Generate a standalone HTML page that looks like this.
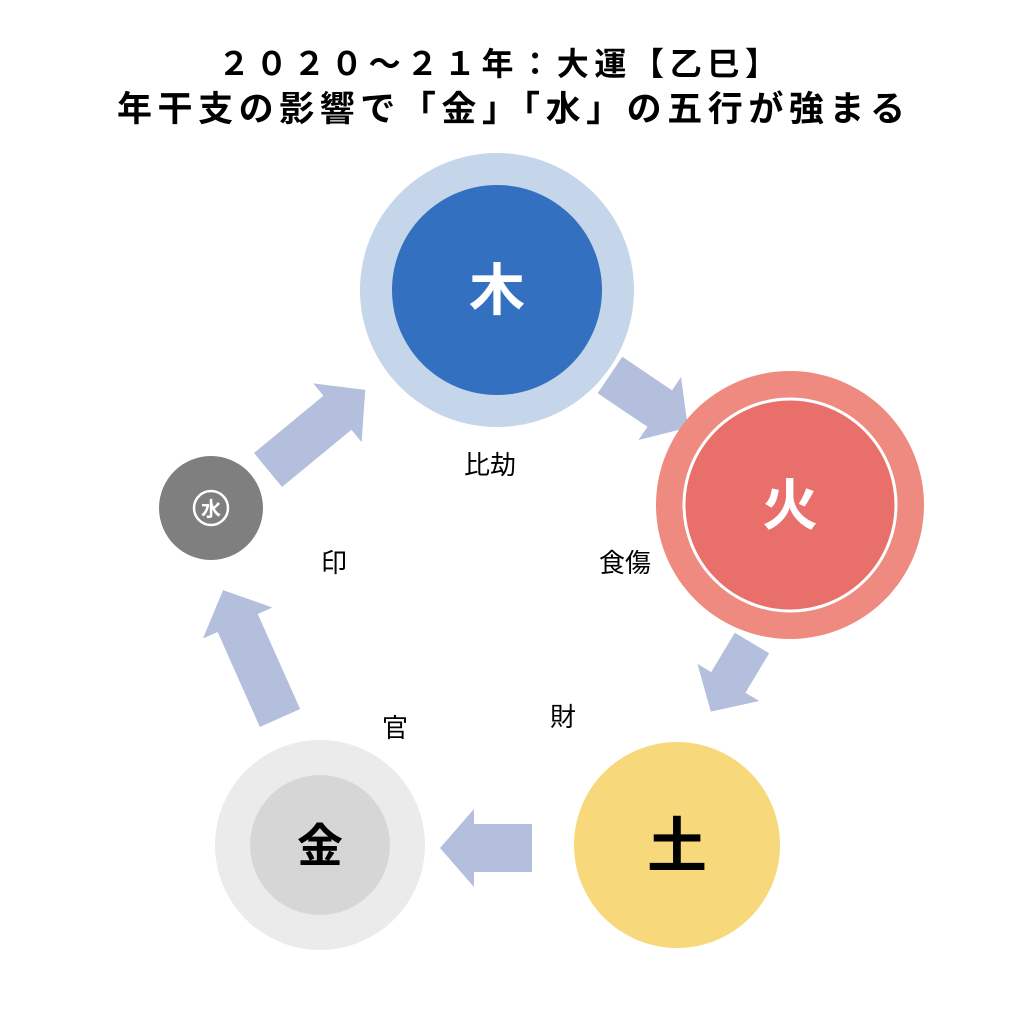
<!DOCTYPE html>
<html><head><meta charset="utf-8"><style>
html,body{margin:0;padding:0;background:#fff;}
body{width:1024px;height:1021px;overflow:hidden;}
svg{display:block;}
text{font-family:"Liberation Sans","Noto Sans CJK JP",sans-serif;}
</style></head><body>
<svg width="1024" height="1021" viewBox="0 0 1024 1021" xmlns="http://www.w3.org/2000/svg">
<text x="218" y="75" font-size="32" font-weight="bold" fill="#000" textLength="559" lengthAdjust="spacing">２０２０～２１年：大運【乙巳】</text>
<text x="117" y="121" font-size="35" font-weight="bold" fill="#000" textLength="788" lengthAdjust="spacing">年干支の影響で「金」「水」の五行が強まる</text>

<g fill="#b4bedd">
<polygon points="0,-22 60,-22 60,-38 94,0 60,38 60,22 0,22" transform="translate(610,375) rotate(34)"/>
<polygon points="0,-20 46,-20 46,-36 80,0 46,36 46,20 0,20" transform="translate(752,643) rotate(121)"/>
<polygon points="0,-24 58,-24 58,-39 92,0 58,39 58,24 0,24" transform="translate(532,848) rotate(180)"/>
<polygon points="0,-22 104,-22 104,-38 140,0 104,38 104,22 0,22" transform="translate(280,718) rotate(-114)"/>
<polygon points="0,-22 90,-22 90,-38 126,0 90,38 90,22 0,22" transform="translate(268,470) rotate(-39.5)"/>
</g>

<circle cx="497" cy="290" r="137" fill="#c5d5ea"/>
<circle cx="497" cy="290" r="105" fill="#3370bf"/>
<text x="497" y="310" text-anchor="middle" font-size="56" font-weight="bold" fill="#fff">木</text>

<circle cx="790" cy="505" r="134" fill="#ee8a80"/>
<circle cx="790" cy="505" r="106" fill="#e96f6b" stroke="#fff" stroke-width="3"/>
<text x="790" y="525" text-anchor="middle" font-size="56" font-weight="bold" fill="#fff">火</text>

<circle cx="677" cy="845" r="103" fill="#f7d87a"/>
<text x="677" y="867" text-anchor="middle" font-size="60" font-weight="bold" fill="#000">土</text>

<circle cx="320" cy="845" r="105" fill="#ebebeb"/>
<circle cx="320" cy="845" r="70" fill="#d6d6d6"/>
<text x="320" y="862" text-anchor="middle" font-size="46" font-weight="bold" fill="#000">金</text>

<circle cx="211" cy="508" r="52" fill="#7f7f7f"/>
<circle cx="211" cy="508" r="17" fill="none" stroke="#fff" stroke-width="2.5"/>
<text x="211" y="516" text-anchor="middle" font-size="20" font-weight="bold" fill="#fff">水</text>

<g font-size="26" fill="#000" text-anchor="middle">
<text x="490" y="474">比劫</text>
<text x="625" y="572">食傷</text>
<text x="563" y="726">財</text>
<text x="395" y="737">官</text>
<text x="334" y="572">印</text>
</g>
</svg>
</body></html>
